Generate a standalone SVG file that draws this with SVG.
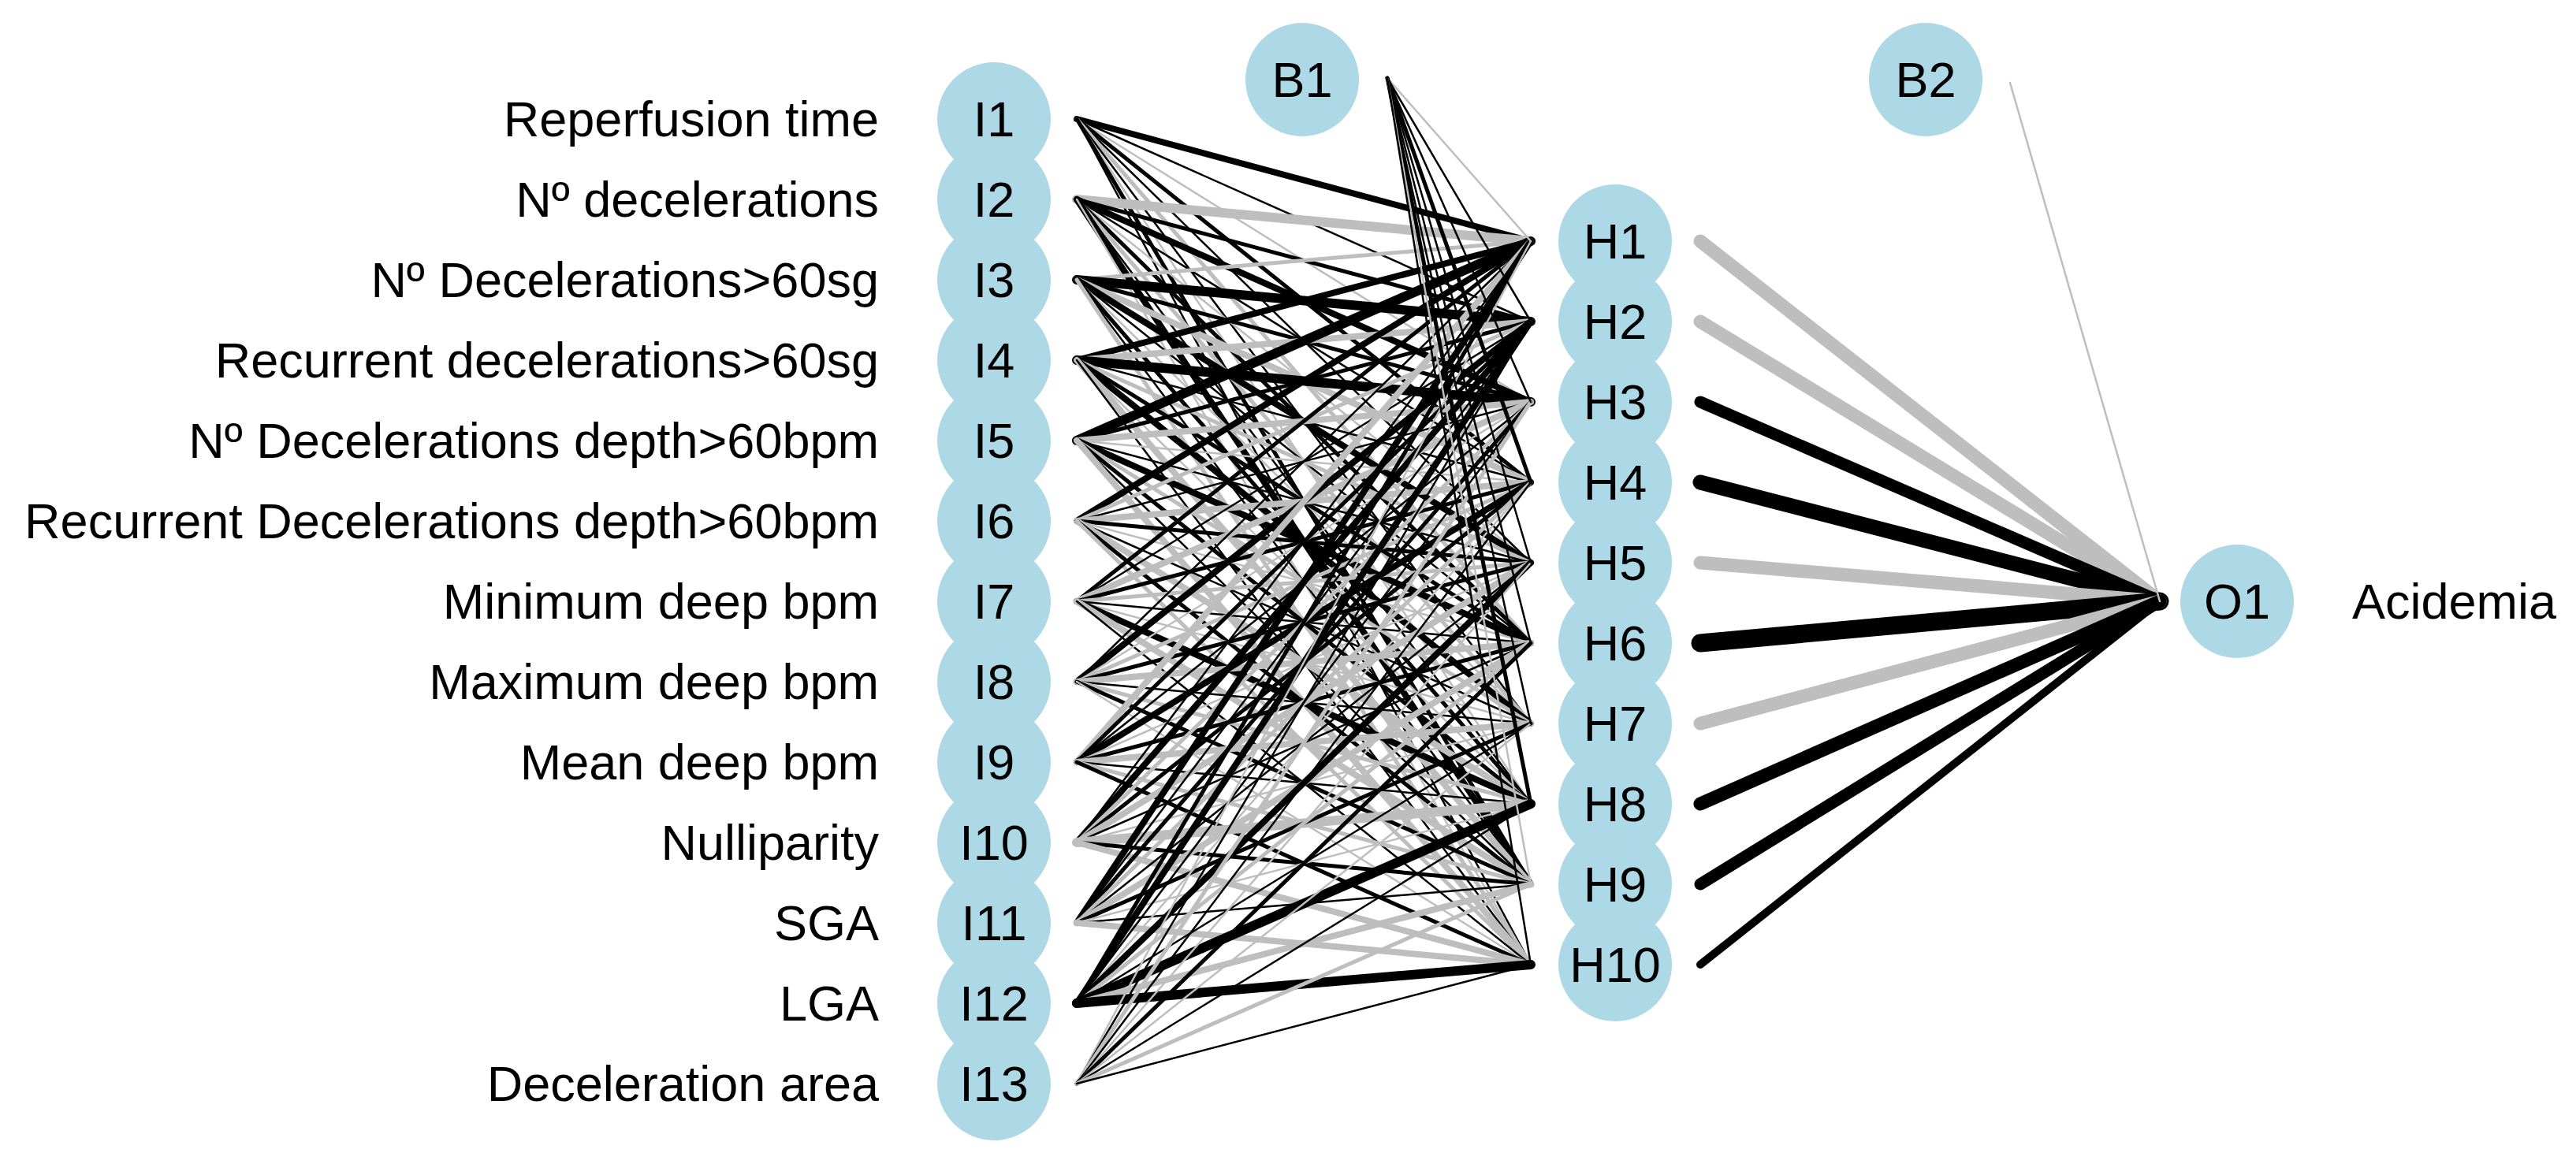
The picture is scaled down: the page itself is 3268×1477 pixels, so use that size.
<svg xmlns="http://www.w3.org/2000/svg" width="3268" height="1477" viewBox="0 0 3268 1477">
<style>
text{font-family:"Liberation Sans",Arial,sans-serif;font-size:63px;fill:#000}
.lab{text-anchor:end;dominant-baseline:central}
.nl{text-anchor:middle;dominant-baseline:central}
circle{fill:#ADD8E6}
path{fill:none;stroke-linecap:round}
.a{stroke:#000;stroke-width:2.5}.b{stroke:#000;stroke-width:5}.c{stroke:#000;stroke-width:8}.d{stroke:#000;stroke-width:12}
.e{stroke:#bebebe;stroke-width:2.5}.f{stroke:#bebebe;stroke-width:5}.g{stroke:#bebebe;stroke-width:8}.h{stroke:#bebebe;stroke-width:12}
</style>
<rect width="3268" height="1477" fill="#fff"/>
<g id="connectors">
<path class="c" d="M1366 151L1942 306"/><path class="a" d="M1366 151L1942 408"/><path class="e" d="M1366 151L1942 510"/><path class="b" d="M1366 151L1942 612"/><path class="a" d="M1366 151L1942 714"/><path class="f" d="M1366 151L1942 816"/><path class="a" d="M1366 151L1942 918"/><path class="e" d="M1366 151L1942 1020"/><path class="b" d="M1366 151L1942 1122"/><path class="a" d="M1366 151L1942 1224"/>
<path class="h" d="M1366 253L1942 306"/><path class="b" d="M1366 253L1942 408"/><path class="c" d="M1366 253L1942 510"/><path class="a" d="M1366 253L1942 612"/><path class="e" d="M1366 253L1942 714"/><path class="b" d="M1366 253L1942 816"/><path class="f" d="M1366 253L1942 918"/><path class="a" d="M1366 253L1942 1020"/><path class="c" d="M1366 253L1942 1122"/><path class="e" d="M1366 253L1942 1224"/>
<path class="f" d="M1366 355L1942 306"/><path class="d" d="M1366 355L1942 408"/><path class="b" d="M1366 355L1942 510"/><path class="g" d="M1366 355L1942 612"/><path class="c" d="M1366 355L1942 714"/><path class="a" d="M1366 355L1942 816"/><path class="e" d="M1366 355L1942 918"/><path class="b" d="M1366 355L1942 1020"/><path class="a" d="M1366 355L1942 1122"/><path class="f" d="M1366 355L1942 1224"/>
<path class="c" d="M1366 457L1942 306"/><path class="g" d="M1366 457L1942 408"/><path class="d" d="M1366 457L1942 510"/><path class="a" d="M1366 457L1942 612"/><path class="f" d="M1366 457L1942 714"/><path class="b" d="M1366 457L1942 816"/><path class="c" d="M1366 457L1942 918"/><path class="e" d="M1366 457L1942 1020"/><path class="g" d="M1366 457L1942 1122"/><path class="a" d="M1366 457L1942 1224"/>
<path class="d" d="M1366 559L1942 306"/><path class="b" d="M1366 559L1942 408"/><path class="g" d="M1366 559L1942 510"/><path class="e" d="M1366 559L1942 612"/><path class="a" d="M1366 559L1942 714"/><path class="c" d="M1366 559L1942 816"/><path class="f" d="M1366 559L1942 918"/><path class="b" d="M1366 559L1942 1020"/><path class="a" d="M1366 559L1942 1122"/><path class="g" d="M1366 559L1942 1224"/>
<path class="c" d="M1366 661L1942 306"/><path class="f" d="M1366 661L1942 408"/><path class="a" d="M1366 661L1942 510"/><path class="g" d="M1366 661L1942 612"/><path class="b" d="M1366 661L1942 714"/><path class="e" d="M1366 661L1942 816"/><path class="a" d="M1366 661L1942 918"/><path class="g" d="M1366 661L1942 1020"/><path class="b" d="M1366 661L1942 1122"/><path class="f" d="M1366 661L1942 1224"/>
<path class="b" d="M1366 763L1942 306"/><path class="a" d="M1366 763L1942 408"/><path class="g" d="M1366 763L1942 510"/><path class="b" d="M1366 763L1942 612"/><path class="f" d="M1366 763L1942 714"/><path class="a" d="M1366 763L1942 816"/><path class="e" d="M1366 763L1942 918"/><path class="c" d="M1366 763L1942 1020"/><path class="g" d="M1366 763L1942 1122"/><path class="a" d="M1366 763L1942 1224"/>
<path class="a" d="M1366 865L1942 306"/><path class="c" d="M1366 865L1942 408"/><path class="e" d="M1366 865L1942 510"/><path class="f" d="M1366 865L1942 612"/><path class="b" d="M1366 865L1942 714"/><path class="g" d="M1366 865L1942 816"/><path class="a" d="M1366 865L1942 918"/><path class="f" d="M1366 865L1942 1020"/><path class="b" d="M1366 865L1942 1122"/><path class="e" d="M1366 865L1942 1224"/>
<path class="g" d="M1366 967L1942 306"/><path class="b" d="M1366 967L1942 408"/><path class="a" d="M1366 967L1942 510"/><path class="c" d="M1366 967L1942 612"/><path class="e" d="M1366 967L1942 714"/><path class="b" d="M1366 967L1942 816"/><path class="g" d="M1366 967L1942 918"/><path class="a" d="M1366 967L1942 1020"/><path class="f" d="M1366 967L1942 1122"/><path class="b" d="M1366 967L1942 1224"/>
<path class="a" d="M1366 1069L1942 306"/><path class="c" d="M1366 1069L1942 408"/><path class="f" d="M1366 1069L1942 510"/><path class="b" d="M1366 1069L1942 612"/><path class="g" d="M1366 1069L1942 714"/><path class="a" d="M1366 1069L1942 816"/><path class="e" d="M1366 1069L1942 918"/><path class="h" d="M1366 1069L1942 1020"/><path class="b" d="M1366 1069L1942 1122"/><path class="g" d="M1366 1069L1942 1224"/>
<path class="c" d="M1366 1171L1942 306"/><path class="a" d="M1366 1171L1942 408"/><path class="b" d="M1366 1171L1942 510"/><path class="f" d="M1366 1171L1942 612"/><path class="a" d="M1366 1171L1942 714"/><path class="g" d="M1366 1171L1942 816"/><path class="b" d="M1366 1171L1942 918"/><path class="e" d="M1366 1171L1942 1020"/><path class="a" d="M1366 1171L1942 1122"/><path class="g" d="M1366 1171L1942 1224"/>
<path class="b" d="M1366 1273L1942 306"/><path class="c" d="M1366 1273L1942 408"/><path class="a" d="M1366 1273L1942 510"/><path class="e" d="M1366 1273L1942 612"/><path class="c" d="M1366 1273L1942 714"/><path class="f" d="M1366 1273L1942 816"/><path class="a" d="M1366 1273L1942 918"/><path class="d" d="M1366 1273L1942 1020"/><path class="g" d="M1366 1273L1942 1122"/><path class="d" d="M1366 1273L1942 1224"/>
<path class="e" d="M1366 1375L1942 306"/><path class="a" d="M1366 1375L1942 408"/><path class="f" d="M1366 1375L1942 510"/><path class="a" d="M1366 1375L1942 612"/><path class="e" d="M1366 1375L1942 714"/><path class="b" d="M1366 1375L1942 816"/><path class="e" d="M1366 1375L1942 918"/><path class="a" d="M1366 1375L1942 1020"/><path class="f" d="M1366 1375L1942 1122"/><path class="a" d="M1366 1375L1942 1224"/>
<path class="e" d="M1760 99L1942 306"/><path class="a" d="M1760 99L1942 408"/><path class="a" d="M1760 99L1942 510"/><path class="b" d="M1760 99L1942 612"/><path class="a" d="M1760 99L1942 714"/><path class="a" d="M1760 99L1942 816"/><path class="a" d="M1760 99L1942 918"/><path class="b" d="M1760 99L1942 1020"/><path class="e" d="M1760 99L1942 1122"/><path class="a" d="M1760 99L1942 1224"/>
<path stroke="#bebebe" stroke-width="17" d="M2157 306L2740 763"/>
<path stroke="#bebebe" stroke-width="17" d="M2157 408L2740 763"/>
<path stroke="#000" stroke-width="15" d="M2157 510L2740 763"/>
<path stroke="#000" stroke-width="19" d="M2157 612L2740 763"/>
<path stroke="#bebebe" stroke-width="17" d="M2157 714L2740 763"/>
<path stroke="#000" stroke-width="23" d="M2157 816L2740 763"/>
<path stroke="#bebebe" stroke-width="17" d="M2157 918L2740 763"/>
<path stroke="#000" stroke-width="17" d="M2157 1020L2740 763"/>
<path stroke="#000" stroke-width="15" d="M2157 1122L2740 763"/>
<path stroke="#000" stroke-width="10" d="M2157 1224L2740 763"/>
<path class="e" d="M2550 105L2740 763"/>
</g>
<g id="inputs">
<g id="I1"><circle cx="1261" cy="151" r="72"/><text class="nl" x="1261" y="151">I1</text><text class="lab" x="1115" y="151">Reperfusion time</text></g>
<g id="I2"><circle cx="1261" cy="253" r="72"/><text class="nl" x="1261" y="253">I2</text><text class="lab" x="1115" y="253">Nº decelerations</text></g>
<g id="I3"><circle cx="1261" cy="355" r="72"/><text class="nl" x="1261" y="355">I3</text><text class="lab" x="1115" y="355">Nº Decelerations&gt;60sg</text></g>
<g id="I4"><circle cx="1261" cy="457" r="72"/><text class="nl" x="1261" y="457">I4</text><text class="lab" x="1115" y="457">Recurrent decelerations&gt;60sg</text></g>
<g id="I5"><circle cx="1261" cy="559" r="72"/><text class="nl" x="1261" y="559">I5</text><text class="lab" x="1115" y="559">Nº Decelerations depth&gt;60bpm</text></g>
<g id="I6"><circle cx="1261" cy="661" r="72"/><text class="nl" x="1261" y="661">I6</text><text class="lab" x="1115" y="661">Recurrent Decelerations depth&gt;60bpm</text></g>
<g id="I7"><circle cx="1261" cy="763" r="72"/><text class="nl" x="1261" y="763">I7</text><text class="lab" x="1115" y="763">Minimum deep bpm</text></g>
<g id="I8"><circle cx="1261" cy="865" r="72"/><text class="nl" x="1261" y="865">I8</text><text class="lab" x="1115" y="865">Maximum deep bpm</text></g>
<g id="I9"><circle cx="1261" cy="967" r="72"/><text class="nl" x="1261" y="967">I9</text><text class="lab" x="1115" y="967">Mean deep bpm</text></g>
<g id="I10"><circle cx="1261" cy="1069" r="72"/><text class="nl" x="1261" y="1069">I10</text><text class="lab" x="1115" y="1069">Nulliparity</text></g>
<g id="I11"><circle cx="1261" cy="1171" r="72"/><text class="nl" x="1261" y="1171">I11</text><text class="lab" x="1115" y="1171">SGA</text></g>
<g id="I12"><circle cx="1261" cy="1273" r="72"/><text class="nl" x="1261" y="1273">I12</text><text class="lab" x="1115" y="1273">LGA</text></g>
<g id="I13"><circle cx="1261" cy="1375" r="72"/><text class="nl" x="1261" y="1375">I13</text><text class="lab" x="1115" y="1375">Deceleration area</text></g>
</g>
<g id="hidden">
<g id="H1"><circle cx="2049" cy="306" r="72"/><text class="nl" x="2049" y="306">H1</text></g>
<g id="H2"><circle cx="2049" cy="408" r="72"/><text class="nl" x="2049" y="408">H2</text></g>
<g id="H3"><circle cx="2049" cy="510" r="72"/><text class="nl" x="2049" y="510">H3</text></g>
<g id="H4"><circle cx="2049" cy="612" r="72"/><text class="nl" x="2049" y="612">H4</text></g>
<g id="H5"><circle cx="2049" cy="714" r="72"/><text class="nl" x="2049" y="714">H5</text></g>
<g id="H6"><circle cx="2049" cy="816" r="72"/><text class="nl" x="2049" y="816">H6</text></g>
<g id="H7"><circle cx="2049" cy="918" r="72"/><text class="nl" x="2049" y="918">H7</text></g>
<g id="H8"><circle cx="2049" cy="1020" r="72"/><text class="nl" x="2049" y="1020">H8</text></g>
<g id="H9"><circle cx="2049" cy="1122" r="72"/><text class="nl" x="2049" y="1122">H9</text></g>
<g id="H10"><circle cx="2049" cy="1224" r="72"/><text class="nl" x="2049" y="1224">H10</text></g>
</g>
<g id="B1"><circle cx="1652" cy="101" r="72"/><text class="nl" x="1652" y="101">B1</text></g>
<g id="B2"><circle cx="2443" cy="101" r="72"/><text class="nl" x="2443" y="101">B2</text></g>
<g id="O1"><circle cx="2838" cy="763" r="72"/><text class="nl" x="2838" y="763">O1</text><text x="2984" y="763" dominant-baseline="central">Acidemia</text></g>
</svg>
